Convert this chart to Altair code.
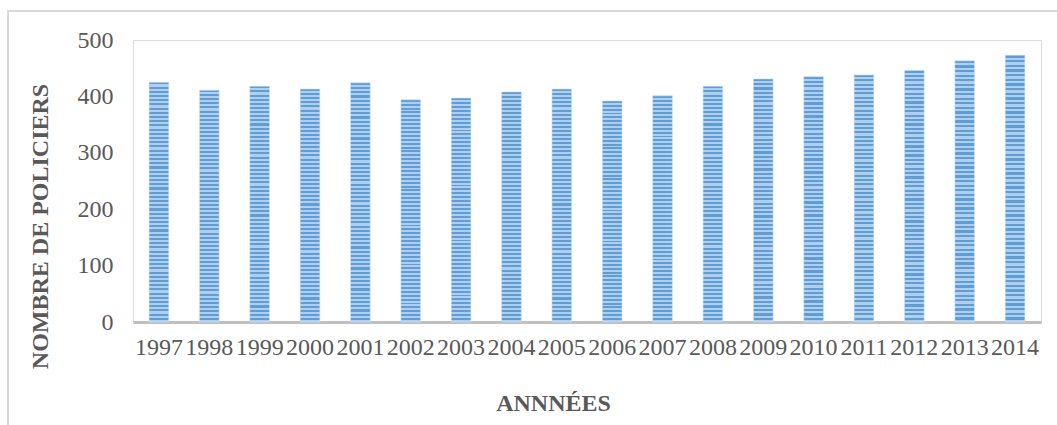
import altair as alt
import pandas as pd

years = ["1997", "1998", "1999", "2000", "2001", "2002", "2003", "2004", "2005",
         "2006", "2007", "2008", "2009", "2010", "2011", "2012", "2013", "2014"]
policiers = [425, 411, 418, 413, 424, 394, 397, 408, 413,
             392, 401, 418, 431, 435, 438, 446, 463, 473]

df = pd.DataFrame({"annee": years, "policiers": policiers})

# horizontal stripe pattern approximated by a vertical gradient
n_stripes = 57
dark = "#5e9dd6"
light = "#b0cfec"
stops = []
for i in range(n_stripes):
    a = i / n_stripes
    m = (i + 0.5) / n_stripes
    b = (i + 1) / n_stripes
    stops += [
        alt.GradientStop(offset=a, color=dark),
        alt.GradientStop(offset=m, color=dark),
        alt.GradientStop(offset=m, color=light),
        alt.GradientStop(offset=b, color=light),
    ]
stripe = alt.LinearGradient(gradient="linear", x1=0, x2=0, y1=0, y2=1, stops=stops)

FONT = "Liberation Serif"
GREY = "#595959"

bars = alt.Chart(df).mark_bar(fill=stripe, stroke="#c9def2", strokeWidth=0.6).encode(
    x=alt.X("annee:N", sort=years,
            scale=alt.Scale(paddingInner=0.61, paddingOuter=0.32),
            axis=alt.Axis(title="ANNNÉES", labelAngle=0, labelFont=FONT, labelFontSize=24,
                          labelColor=GREY, labelPadding=13, ticks=False,
                          domainColor="#bfbfbf", domainWidth=3,
                          titleFont=FONT, titleFontSize=24, titleFontWeight="bold",
                          titleColor=GREY, titleX=420, titleY=81, titleAlign="center",
                          titleBaseline="middle")),
    y=alt.Y("policiers:Q",
            scale=alt.Scale(domain=[0, 500], nice=False),
            axis=alt.Axis(title="NOMBRE DE POLICIERS", values=[0, 100, 200, 300, 400, 500],
                          grid=False, domain=False, ticks=False,
                          labelFont=FONT, labelFontSize=24, labelColor=GREY, labelPadding=20,
                          titleFont=FONT, titleFontSize=24, titleFontWeight="bold",
                          titleColor=GREY, titleAngle=270, titleX=-93, titleY=186,
                          titleAlign="center", titleBaseline="middle")),
)

frame = alt.Chart(df).mark_rect(fill=None, stroke="#d9d9d9", strokeWidth=1.2, clip=False).encode(
    x=alt.value(-125), x2=alt.value(940), y=alt.value(-29), y2=alt.value(400)
)

chart = alt.layer(frame, bars).properties(
    width=908, height=282,
    autosize=alt.AutoSizeParams(type="none"),
    padding={"left": 133, "top": 40, "right": 16, "bottom": 103},
).configure_view(stroke=None).configure(background="white")

chart.save("out.html", embed_options={"renderer": "svg", "actions": False})
